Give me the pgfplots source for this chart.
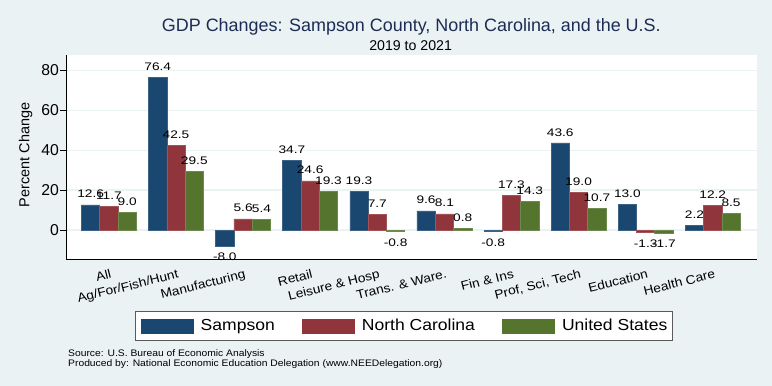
\documentclass[border=0pt]{standalone}
\usepackage{fontspec}
\setmainfont{Liberation Sans}
\newfontfamily\valfont{Liberation Sans}[FakeStretch=1.25]
\newfontfamily\xlabfont{Liberation Sans}[FakeStretch=1.1]
\newfontfamily\legfont{Liberation Sans}[FakeStretch=1.1]
\newfontfamily\srcfont{Liberation Sans}[FakeStretch=1.09]
\usepackage{pgfplots}
\pgfplotsset{compat=1.18}
\definecolor{bg}{RGB}{234,242,243}
\definecolor{sampson}{RGB}{26,71,111}
\definecolor{nc}{RGB}{144,53,59}
\definecolor{us}{RGB}{85,117,47}
\definecolor{titlec}{RGB}{28,44,84}
\pgfplotstableread{
x s n u
0 12.6 11.7 9.0
1 76.4 42.5 29.5
2 -8.0 5.6 5.4
3 34.7 24.6 19.3
4 19.3 7.7 -0.8
5 9.6 8.1 0.8
6 -0.8 17.3 14.3
7 43.6 19.0 10.7
8 13.0 -1.3 -1.7
9 2.2 12.2 8.5
}\gdpdata
\begin{document}
\begin{tikzpicture}
\fill[bg] (0bp,0bp) rectangle (772bp,386bp);
\begin{axis}[
  at={(66bp,127bp)}, anchor=south west,
  scale only axis, width=691bp, height=204bp,
  xmin=-0.64, xmax=9.66, ymin=-14.5, ymax=87.6,
  axis background/.style={fill=white},
  ybar=0pt, bar width=18.3bp,
  axis x line*=bottom, axis y line*=left,
  axis line style={black, line width=0.9bp},
  xtick={0,...,9},
  xticklabels={All,Ag/For/Fish/Hunt,Manufacturing,Retail,Leisure \& Hosp,Trans. \& Ware.,Fin \& Ins,{Prof, Sci, Tech},Education,Health Care},
  xtick style={draw=none},
  xticklabel style={font=\xlabfont\fontsize{12.5}{12.5}\selectfont, rotate=14, anchor=north east, inner sep=1bp, yshift=-3bp, xshift=1bp},
  ytick={0,20,40,60,80},
  tick align=outside, major tick length=6bp,
  ytick style={black, line width=0.9bp},
  yticklabel style={font=\fontsize{15.8}{15.8}\selectfont, inner sep=1bp},
  /pgf/number format/assume math mode=true,
  ymajorgrids, grid style={color=bg, line width=1.2bp},
  ylabel={\fontsize{14.5}{14.5}\selectfont Percent Change},
  ylabel style={at={(axis description cs:0,0.51)}, anchor=south, yshift=30bp},
  clip=false,
  nodes near coords={\pgfmathprintnumber[fixed,fixed zerofill,precision=1,assume math mode=true]{\pgfplotspointmeta}},
  every node near coord/.append style={font=\valfont\fontsize{11}{11}\selectfont, text=black, inner xsep=0bp, inner ysep=6.5bp},
  legend columns=3,
  legend style={at={(0.0999,-0.328)}, anchor=west, draw={rgb,255:red,90;green,90;blue,90}, line width=1.2bp, fill=white,
    font=\legfont\fontsize{16}{16}\selectfont, inner xsep=5bp, inner ysep=7bp,
    nodes={inner sep=0bp},
    /tikz/every odd column/.append style={column sep=7.5bp},
    /tikz/every even column/.append style={column sep=27bp}},
]
\addplot[fill=sampson, draw=sampson!85!white, line width=0.6bp,
  legend image code/.code={\fill[sampson] (0bp,-7bp) rectangle (52bp,7bp);}] table[x=x,y=s] {\gdpdata};
\addlegendentry{Sampson}
\addplot[fill=nc, draw=nc!85!white, line width=0.6bp,
  legend image code/.code={\fill[nc] (0bp,-7bp) rectangle (52bp,7bp);}] table[x=x,y=n] {\gdpdata};
\addlegendentry{North Carolina}
\addplot[fill=us, draw=us!85!white, line width=0.6bp,
  legend image code/.code={\fill[us] (0bp,-7bp) rectangle (52bp,7bp);}] table[x=x,y=u] {\gdpdata};
\addlegendentry{United States\hspace{13bp}}
\end{axis}
\node[text=titlec, font=\fontsize{18}{18}\selectfont, anchor=base] at (411.3bp,354.3bp) {GDP Changes: Sampson County, North Carolina, and the U.S.};
\node[font=\fontsize{14.2}{14.2}\selectfont, anchor=base] at (410.6bp,335.3bp) {2019 to 2021};
\node[font=\srcfont\fontsize{9.5}{9.5}\selectfont, anchor=base west, inner sep=0bp] at (68bp,29.5bp) {Source: U.S. Bureau of Economic Analysis};
\node[font=\srcfont\fontsize{9.5}{9.5}\selectfont, anchor=base west, inner sep=0bp] at (68bp,19.5bp) {Produced by: National Economic Education Delegation (www.NEEDelegation.org)};
\pgfresetboundingbox
\path (0bp,0bp) rectangle (772bp,386bp);
\end{tikzpicture}
\end{document}
